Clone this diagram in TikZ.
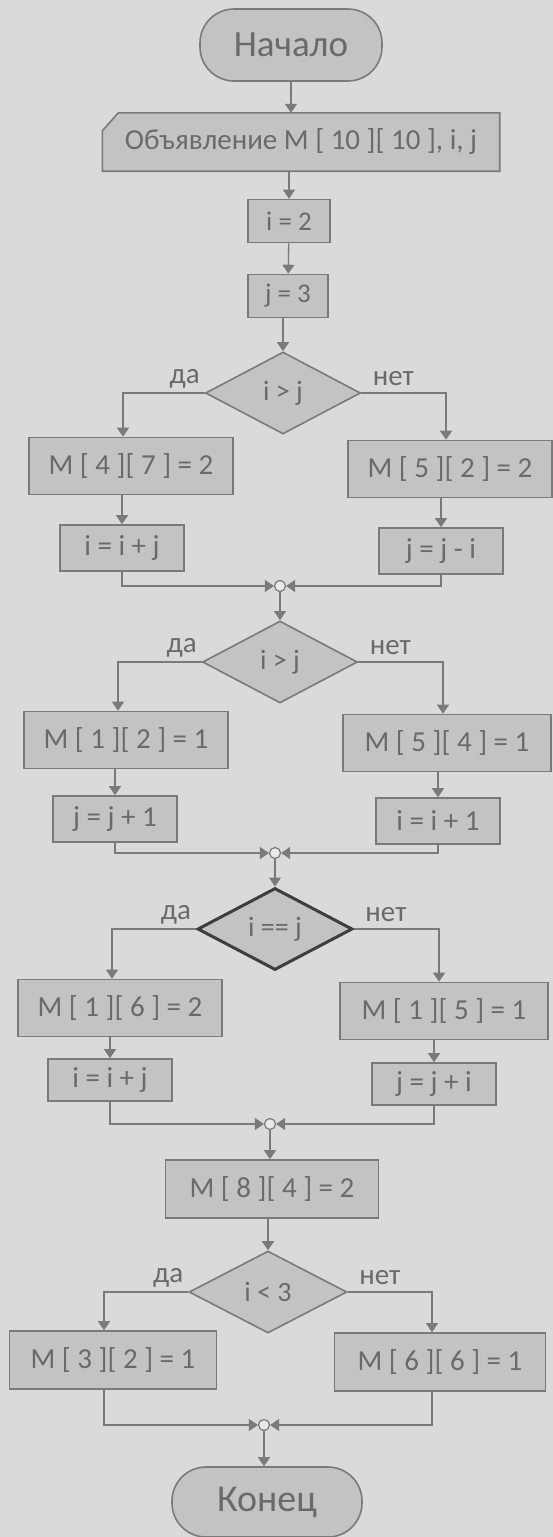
\documentclass[tikz,border=0pt]{standalone}
\usepackage{fontspec}
\setmainfont{Carlito}
\usetikzlibrary{shapes.geometric,arrows.meta,calc}
\definecolor{paper}{HTML}{DADADA}
\definecolor{boxfill}{HTML}{C3C3C3}
\definecolor{edge}{HTML}{7A7A7A}
\definecolor{ink}{HTML}{6A6A6A}
\definecolor{darkedge}{HTML}{3E3E3E}
\begin{document}
\begin{tikzpicture}[x=1pt,y=-1pt,
  every node/.style={text=ink},
  fs/.style={font=\fontsize{#1}{#1}\selectfont},
  proc/.style={draw=edge, fill=boxfill, line width=1.6pt, rectangle, inner sep=0pt, fs=29},
  small/.style={proc, minimum width=124pt, minimum height=46pt, fs=29},
  wide/.style={proc, minimum width=204pt, minimum height=57pt},
  term/.style={draw=edge, fill=boxfill, line width=1.6pt, rectangle, rounded corners=34pt, inner sep=0pt},
  cond/.style={draw=edge, fill=boxfill, line width=1.6pt, diamond, inner sep=0pt,
               minimum width=155pt, minimum height=82pt, fs=28},
  junction/.style={draw=edge, fill=paper!60!white, circle, minimum size=11pt, inner sep=0pt, line width=1.2pt},
  arr/.style={draw=edge, line width=1.3pt, -{Triangle[width=12pt,length=9pt]}},
  lbl/.style={fs=29},
]
% page
\fill[paper] (0,0) rectangle (553,1537);
\useasboundingbox (0,0) rectangle (553,1537);

% start and declarations
\node[term, minimum width=182pt, minimum height=72pt, fs=37] (start) at (291,45) {Начало};
\path node[minimum width=397pt, minimum height=58pt, inner sep=0pt] (declframe) at (301,142) {};
\draw[draw=edge, fill=boxfill, line width=1.6pt]
  (declframe.south west) -- ($(declframe.north west)+(0,18)$) -- ($(declframe.north west)+(16,0)$)
  -- (declframe.north east) -- (declframe.south east) -- cycle;
\node[fs=29] (decl) at (declframe) {Объявление М [ 10 ][ 10 ], i, j};

\node[proc, minimum width=82pt, minimum height=43pt, fs=27] (i2) at (289,221) {i = 2};
\node[proc, minimum width=80pt, minimum height=43pt, fs=27] (j3) at (288,296) {j = 3};

% first branch
\node[cond] (d1) at (283,393) {i > j};
\node[wide] (b47) at (131,466) {M [ 4 ][ 7 ] = 2};
\node[small] (bi1) at (122,548) {i = i + j};
\node[wide] (b52) at (450,469) {M [ 5 ][ 2 ] = 2};
\node[small] (bj1) at (441,551) {j = j - i};
\node[junction] (m1) at (280,586) {};

% second branch
\node[cond] (d2) at (280,662) {i > j};
\node[wide] (b12) at (126,740) {M [ 1 ][ 2 ] = 1};
\node[small] (bj2) at (115,819) {j = j + 1};
\node[wide, minimum width=208pt] (b54) at (447,743) {M [ 5 ][ 4 ] = 1};
\node[small] (bi2) at (438,821) {i = i + 1};
\node[junction] (m2) at (275,853) {};

% third branch
\node[cond, draw=darkedge, line width=3pt] (d3) at (275,929) {i == j};
\node[wide] (b16) at (120,1008) {M [ 1 ][ 6 ] = 2};
\node[small, minimum height=42pt] (bi3) at (110,1080) {i = i + j};
\node[wide, minimum width=208pt] (b15) at (444,1011) {M [ 1 ][ 5 ] = 1};
\node[small, minimum height=42pt] (bj3) at (434,1084) {j = j + i};
\node[junction] (m3) at (270,1124) {};

\node[wide, minimum width=213pt, minimum height=58pt] (b84) at (272,1189) {M [ 8 ][ 4 ] = 2};

% fourth branch
\node[cond, minimum width=158pt] (d4) at (268,1292) {i < 3};
\node[wide, minimum width=207pt, minimum height=58pt] (b32) at (113,1360) {M [ 3 ][ 2 ] = 1};
\node[wide, minimum width=211pt, minimum height=58pt] (b66) at (440,1362) {M [ 6 ][ 6 ] = 1};
\node[junction] (m4) at (264,1425) {};

\node[term, minimum width=190pt, minimum height=70pt, fs=38] (stop) at (267,1502) {Конец};

% branch labels
\foreach \d in {d1,d2,d3,d4}{
  \node[lbl] at ($(\d.west)+(-20,-14)$) {да};
  \node[lbl] at ($(\d.east)+(32,-14)$) {нет};
}

% main flow
\draw[arr] (start.south) -- (start.south |- declframe.north);
\draw[arr] (declframe.south -| i2) -- (i2);
\draw[arr] (i2) -- (j3);
\draw[arr] (j3.south -| d1) -- (d1.north);

% branch 1
\draw[arr] (d1.west) -| ([xshift=-8pt]b47.north);
\draw[arr] (b47.south -| bi1) -- (bi1.north);
\draw[arr] (d1.east) -| ([xshift=-4pt]b52.north);
\draw[arr] (b52.south -| bj1) -- (bj1.north);
\draw[arr] (bi1.south) |- (m1.west);
\draw[arr] (bj1.south) |- (m1.east);
\draw[arr] (m1.south) -- (d2.north);

% branch 2
\draw[arr] (d2.west) -| ([xshift=-8pt]b12.north);
\draw[arr] (b12.south -| bj2) -- (bj2.north);
\draw[arr] (d2.east) -| ([xshift=-4pt]b54.north);
\draw[arr] (b54.south -| bi2) -- (bi2.north);
\draw[arr] (bj2.south) |- (m2.west);
\draw[arr] (bi2.south) |- (m2.east);
\draw[arr] (m2.south) -- (d3.north);

% branch 3
\draw[arr] (d3.west) -| ([xshift=-8pt]b16.north);
\draw[arr] (b16.south -| bi3) -- (bi3.north);
\draw[arr] (d3.east) -| ([xshift=-5pt]b15.north);
\draw[arr] (b15.south -| bj3) -- (bj3.north);
\draw[arr] (bi3.south) |- (m3.west);
\draw[arr] (bj3.south) |- (m3.east);
\draw[arr] (m3.south) -- (m3.south |- b84.north);
\draw[arr] (b84.south -| d4) -- (d4.north);

% branch 4
\draw[arr] (d4.west) -| ([xshift=-9pt]b32.north);
\draw[arr] (d4.east) -| ([xshift=-8pt]b66.north);
\draw[arr] ([xshift=-9pt]b32.south) |- (m4.west);
\draw[arr] ([xshift=-8pt]b66.south) |- (m4.east);
\draw[arr] (m4.south) -- (m4.south |- stop.north);
\end{tikzpicture}
\end{document}
